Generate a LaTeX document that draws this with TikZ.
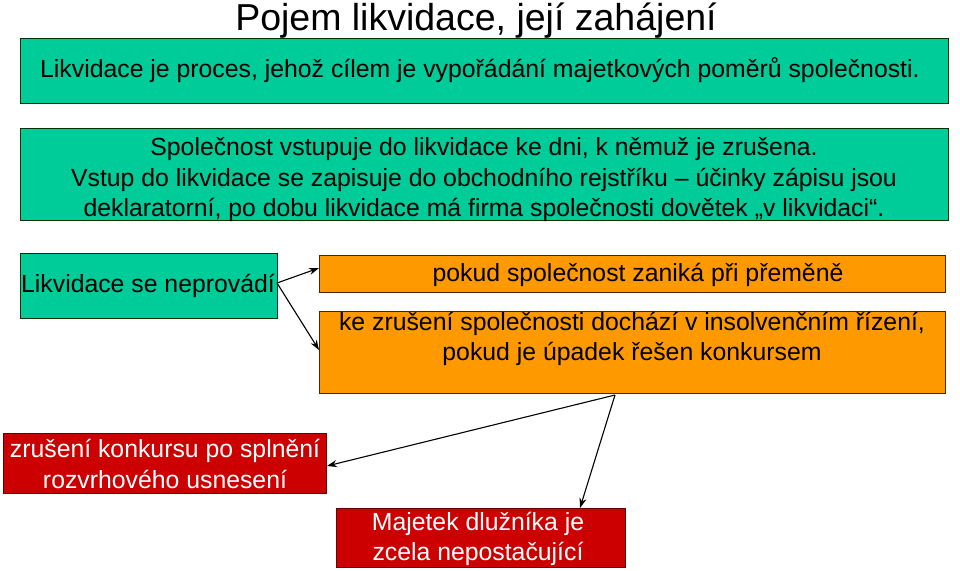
\documentclass[tikz,border=0pt]{standalone}
\usepackage{fontspec}
\setmainfont{Liberation Sans}
\usetikzlibrary{arrows.meta}
\definecolor{grn}{HTML}{00CC99}
\definecolor{org}{HTML}{FF9900}
\definecolor{rd}{HTML}{CC0000}
\begin{document}
\begin{tikzpicture}[x=1pt,y=-1pt,
  box/.style={draw=black!80!green, line width=0.9pt, inner sep=0pt, anchor=north west},
  gbox/.style={box, fill=grn},
  obox/.style={box, fill=org, draw=black!70!orange},
  rbox/.style={box, fill=rd, draw=black!60!red},
  txt/.style={inner sep=0pt, align=center, font=\fontsize{24.8}{30.5}\selectfont},
  wtxt/.style={txt, text=white},
  arr/.style={-{Stealth[length=10pt,width=7pt]}, line width=1.1pt}]
\useasboundingbox (0,0) rectangle (960,570);
\node[inner sep=0pt, anchor=base, font=\fontsize{37.5}{42}\selectfont] (title) at (476,30) {Pojem likvidace, její zahájení};
\node[gbox, minimum width=928pt, minimum height=65pt] (b1) at (20,38) {};
\node[txt, anchor=west] (b1t) at (40,70) {Likvidace je proces, jehož cílem je vypořádání majetkových poměrů společnosti.};
\node[gbox, minimum width=928pt, minimum height=92pt] (b2) at (20,128) {};
\node[txt] (b2t) at (484,180) {Společnost vstupuje do likvidace ke dni, k němuž je zrušena.\\Vstup do likvidace se zapisuje do obchodního rejstříku -- účinky zápisu jsou\\deklaratorní, po dobu likvidace má firma společnosti dovětek „v likvidaci“.};
\node[gbox, minimum width=257pt, minimum height=65pt] (b3) at (20,253) {};
\node[txt] (b3t) at (148,286) {Likvidace se neprovádí};
\node[obox, minimum width=626pt, minimum height=37pt] (o1) at (319,255) {};
\node[txt] (o1t) at (638,275) {pokud společnost zaniká při přeměně};
\node[obox, minimum width=626pt, minimum height=82pt] (o2) at (319,311) {};
\node[txt] (o2t) at (632,339) {ke zrušení společnosti dochází v insolvenčním řízení,\\pokud je úpadek řešen konkursem};
\node[rbox, minimum width=323pt, minimum height=60pt] (r1) at (3,433) {};
\node[wtxt] (r1t) at (165,464) {zrušení konkursu po splnění\\rozvrhového usnesení};
\node[rbox, minimum width=289pt, minimum height=59pt] (r2) at (336,508) {};
\node[wtxt] (r2t) at (478,539) {Majetek dlužníka je\\zcela nepostačující};
\coordinate (s1) at (277,283);
\coordinate (s2) at (615,395);
\draw[arr] (s1) -- (o1.west |- 0,268);
\draw[arr] (s1) -- (o2.west |- 0,350);
\draw[arr] (s2) -- (r1.east |- 0,466);
\draw[arr] (s2) -- (580,508);
\end{tikzpicture}
\end{document}
